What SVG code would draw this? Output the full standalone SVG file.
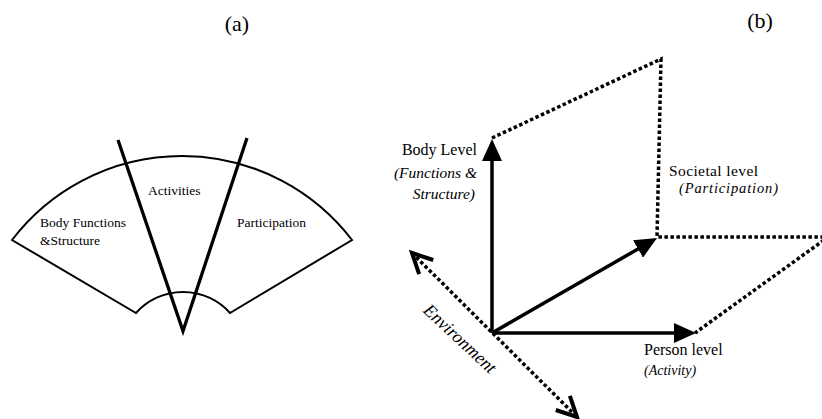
<svg xmlns="http://www.w3.org/2000/svg" width="822" height="419" viewBox="0 0 822 419">
<style>
.t{font-family:"Liberation Serif","Times New Roman",serif;fill:#000}
.i{font-style:italic}
.outline{fill:none;stroke:#000;stroke-width:2}
.v{fill:none;stroke:#000;stroke-width:3.3;stroke-linecap:butt}
.solid{fill:none;stroke:#000;stroke-width:3.5}
.dot{fill:none;stroke:#000;stroke-width:3.5;stroke-dasharray:3.5 2.5}
</style>
<defs>
<marker id="head" markerUnits="userSpaceOnUse" markerWidth="24" markerHeight="20" refX="2" refY="10" orient="auto">
<path d="M0,0 L22,10 L0,20 Z" fill="#000"/>
</marker>
<marker id="chev" markerUnits="userSpaceOnUse" markerWidth="30" markerHeight="30" refX="22" refY="15" orient="auto-start-reverse">
<path d="M2,5 L22,15 L2,25" fill="none" stroke="#000" stroke-width="4" stroke-linejoin="miter"/>
</marker>
</defs>
<rect width="822" height="419" fill="#fff"/>

<!-- Panel (a) -->
<text class="t" x="237" y="31" font-size="22" text-anchor="middle">(a)</text>
<g id="fan">
<path class="outline" d="M12,240 A214,214 0 0 1 352,240 L230,313 A63,63 0 0 0 136,313 Z"/>
</g>
<g id="dividers">
<path class="v" d="M118,140 L183,331 L247,138"/>
</g>
<g id="body-functions">
<text class="t" x="40" y="227" font-size="13.5">Body Functions</text>
<text class="t" x="40" y="245" font-size="13.5">&amp;Structure</text>
</g>
<g id="activities">
<text class="t" x="148" y="195" font-size="13.5">Activities</text>
</g>
<g id="participation">
<text class="t" x="237" y="227" font-size="13.5">Participation</text>
</g>

<!-- Panel (b) -->
<text class="t" x="760" y="28" font-size="22" text-anchor="middle">(b)</text>
<g id="connectors">
<path class="dot" d="M492,138 L661,59 L657,237 L822,237"/>
<path class="dot" d="M824,240 L695,333"/>
<path class="solid" d="M492,333 V159" marker-end="url(#head)"/>
<path class="solid" d="M492,333 H676" marker-end="url(#head)"/>
<path class="solid" d="M492,333 L639.7,248" marker-end="url(#head)"/>
<path class="dot" d="M412,253 L577,417" marker-start="url(#chev)" marker-end="url(#chev)"/>
</g>
<g id="body-level">
<text class="t" x="477" y="155" font-size="16" text-anchor="end">Body Level</text>
<text class="t i" x="477" y="178" font-size="15.5" text-anchor="end">(Functions &amp;</text>
<text class="t i" x="475" y="199" font-size="15.5" text-anchor="end">Structure)</text>
</g>
<g id="societal-level">
<text class="t" x="669" y="176" font-size="15.5" textLength="89">Societal level</text>
<text class="t i" x="679" y="193" font-size="14.5" textLength="99">(Participation)</text>
</g>
<g id="person-level">
<text class="t" x="644" y="355" font-size="16">Person level</text>
<text class="t i" x="644" y="375" font-size="14">(Activity)</text>
</g>
<g id="environment">
<text class="t i" x="0" y="0" font-size="18" text-anchor="middle" transform="translate(456,343) rotate(43)">Environment</text>
</g>
</svg>
